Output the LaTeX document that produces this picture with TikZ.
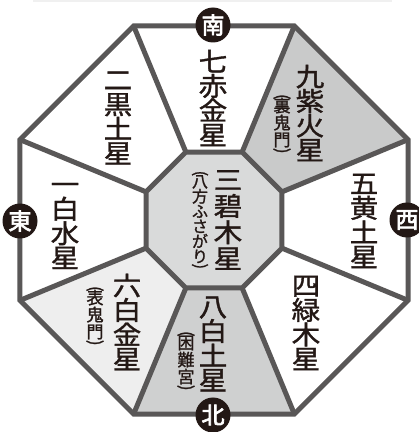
\documentclass[tikz,border=0pt]{standalone}
\usepackage{fontspec}
\newfontfamily\cjk[FakeBold=1.3]{Noto Sans CJK JP}
\newfontfamily\cjkb[FakeBold=3]{Noto Sans CJK JP}
\usepackage{graphicx}
\definecolor{lineg}{HTML}{595757}
\definecolor{ink}{HTML}{231815}
\definecolor{fillA}{HTML}{C9CACA}
\definecolor{fillB}{HTML}{CFD0D0}
\definecolor{fillC}{HTML}{D9DADA}
\definecolor{fillD}{HTML}{EEEEEE}
\newcommand{\wch}[1]{\scalebox{1.1}[1]{#1}}
\newcommand{\po}{\rotatebox[origin=c]{-90}{(}}
\newcommand{\pc}{\rotatebox[origin=c]{-90}{)}}
\begin{document}
\begin{tikzpicture}[x=1pt,y=1pt,
  edge/.style={draw=lineg, line width=5pt, line join=miter},
  bigtxt/.style={font=\cjk\fontsize{26}{24.5}\selectfont, align=center, inner sep=0pt, text=ink},
  smalltxt/.style={font=\cjk\fontsize{17}{17}\selectfont, align=center, inner sep=0pt, text=ink},
  dirc/.style={circle, fill=ink, minimum size=35pt, inner sep=0pt, text=white, font=\cjkb\fontsize{23}{23}\selectfont}]
\useasboundingbox (0,0) rectangle (419,432);
\fill[white] (0,0) rectangle (419,432);
\draw[gray!12, line width=2pt] (33,431) -- (392,431);
\coordinate (C) at (214,212);
\foreach \k in {0,...,7} {
  \coordinate (O\k) at ([shift={({22.5+45*\k}:210)}]C);
  \coordinate (I\k) at ([shift={({22.5+45*\k}:73.6)}]C);
}
% fills
\fill[fillA] (I0) -- (O0) -- (O1) -- (I1) -- cycle;
\fill[fillB] (I5) -- (O5) -- (O6) -- (I6) -- cycle;
\fill[fillD] (I4) -- (O4) -- (O5) -- (I5) -- cycle;
\fill[fillC] (I0) -- (I1) -- (I2) -- (I3) -- (I4) -- (I5) -- (I6) -- (I7) -- cycle;
% lines
\foreach \k in {0,...,7} { \draw[edge] (I\k) -- (O\k); }
\draw[edge] (O0) -- (O1) -- (O2) -- (O3) -- (O4) -- (O5) -- (O6) -- (O7) -- cycle;
\draw[edge] (I0) -- (I1) -- (I2) -- (I3) -- (I4) -- (I5) -- (I6) -- (I7) -- cycle;
% labels
\node[bigtxt] (s7) at (213,334) {\wch{七}\\\wch{赤}\\\wch{金}\\\wch{星}};
\node[bigtxt] (s2) at (118,314) {\wch{二}\\\wch{黒}\\\wch{土}\\\wch{星}};
\node[bigtxt] (s9) at (310,319) {\wch{九}\\\wch{紫}\\\wch{火}\\\wch{星}};
\node[smalltxt] (s9b) at (282,307) {\po\\[-7pt]裏\\鬼\\門\\[-7pt]\pc};
\node[bigtxt] (s1) at (65,206) {\wch{一}\\\wch{白}\\\wch{水}\\\wch{星}};
\node[bigtxt] (s5) at (364,211) {\wch{五}\\\wch{黄}\\\wch{土}\\\wch{星}};
\node[bigtxt] (s6) at (127,110) {\wch{六}\\\wch{白}\\\wch{金}\\\wch{星}};
\node[smalltxt] (s6b) at (95,115) {\po\\[-7pt]表\\鬼\\門\\[-7pt]\pc};
\node[bigtxt] (s8) at (213,88) {\wch{八}\\\wch{白}\\\wch{土}\\\wch{星}};
\node[smalltxt] (s8b) at (186,70) {\po\\[-7pt]困\\難\\宮\\[-7pt]\pc};
\node[bigtxt] (s4) at (306,109) {\wch{四}\\\wch{緑}\\\wch{木}\\\wch{星}};
\node[bigtxt, font=\cjk\fontsize{26}{26.3}\selectfont] (s3) at (228,212) {\wch{三}\\\wch{碧}\\\wch{木}\\\wch{星}};
\node[smalltxt, font=\cjk\fontsize{16}{15}\selectfont] (s3b) at (200,211) {\po\\[-6pt]八\\方\\ふ\\さ\\が\\り\\[-6pt]\pc};
% directions
\node[dirc] (south) at (213,407) {南};
\node[dirc] (east) at (20,211) {東};
\node[dirc] (west) at (407,212) {西};
\node[dirc] (north) at (213,17) {北};
\end{tikzpicture}
\end{document}
